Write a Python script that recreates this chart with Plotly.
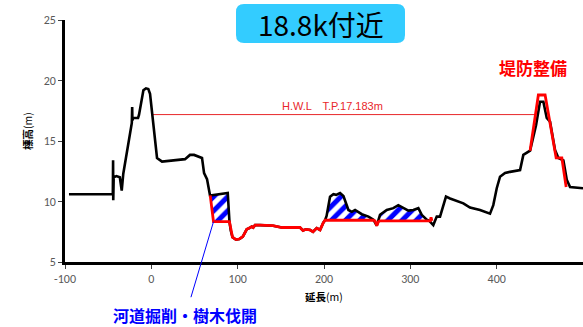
import plotly.graph_objects as go

# ---------------- data ----------------
# existing ground (black) - left bank
left_bank_x = [-95.4, -44.6, -44.3, -44.1, -43.6, -40.5, -36.5, -34.3, -32.5, -22.6, -22.2, -21.9,
               -21.0, -15.4, -14.3, -9.2, -6.2, -3.5, -1.5, 6.6, 12.4, 39.0, 44.8, 49.5, 58.7,
               61.1, 64.5, 68.0, 88.5, 90.3]
left_bank_y = [10.6, 10.6, 13.4, 10.1, 12.0, 12.1, 12.0, 10.9, 12.3, 16.5, 17.8, 16.7,
               16.9, 16.9, 17.15, 19.2, 19.35, 19.3, 18.9, 13.6, 13.3, 13.5, 13.85, 13.85, 13.6,
               12.35, 11.85, 10.5, 10.7, 8.45]

# river channel bottom (shared by existing ground and plan)
channel_x = [90.5, 92.0, 94.0, 98.0, 102.0, 106.0, 110.5, 113.5, 116.3, 118.0, 120.1, 126.0,
             133.7, 141.0, 151.1, 172.2, 175.7, 179.0, 183.8, 187.3, 191.6, 195.4, 199.2, 201.2]
channel_y = [8.33, 7.6, 7.05, 6.85, 6.9, 7.1, 7.7, 7.8, 7.93, 7.85, 8.05, 8.05,
             8.05, 8.0, 7.85, 7.85, 7.6, 7.7, 7.65, 7.5, 7.8, 7.65, 8.25, 8.45]

# existing ground (black) - right side
right_ground_x = [201.2, 203.0, 207.0, 210.9, 214.0, 218.6, 222.5, 228.3, 232.2, 236.0, 239.9,
                  243.8, 251.5, 257.2, 261.1, 264.9, 272.7, 280.3, 286.1, 291.9, 297.7, 303.5,
                  309.3, 313.2, 319.0, 322.0, 326.6, 330.6, 334.4, 341.3, 346.0, 361.4, 369.1,
                  380.7, 392.3, 396.1, 400.1, 403.9, 409.7, 415.5, 427.1, 430.9, 438.7, 445.6,
                  450.2, 454.1, 458.0, 461.8, 467.6, 471.5, 477.3, 481.2, 485.0, 500.0]
right_ground_y = [8.45, 8.8, 10.4, 10.6, 10.55, 10.7, 10.45, 9.3, 9.15, 9.3, 9.15,
                  8.95, 8.75, 8.5, 8.0, 8.9, 9.3, 9.45, 9.7, 9.45, 9.25, 9.3,
                  9.45, 8.9, 8.5, 8.4, 8.05, 8.75, 8.75, 10.4, 10.25, 9.85, 9.5,
                  9.3, 9.0, 9.7, 11.1, 12.05, 12.35, 12.45, 12.6, 13.85, 14.2, 16.3,
                  18.25, 18.25, 16.9, 16.6, 14.25, 13.6, 13.4, 11.8, 11.2, 11.1]

# plan section (red)
cut_left_x = [68.2, 72.0]
cut_left_y = [10.5, 8.33]
cut_right_x = [257.2, 259.0, 261.1, 263.0, 264.9, 323.0, 324.0, 325.0]
cut_right_y = [8.45, 8.4, 8.0, 8.33, 8.4, 8.4, 8.7, 8.4]
dike_x = [438.7, 448.3, 456.1, 461.1, 468.9, 475.5, 480.5]
dike_y = [14.2, 18.8, 18.8, 16.8, 13.6, 13.6, 11.2]

hwl_x = [0.5, 444.6]
hwl_level = 17.183

hatch_ranges = [(68.0, 90.5), (201.2, 257.2), (264.9, 322.0)]

x_ticks = [-100, 0, 100, 200, 300, 400, 500]
y_ticks = [5, 10, 15, 20, 25]

# ---------------- assemble ----------------
ground_x = left_bank_x + channel_x + right_ground_x
ground_y = left_bank_y + channel_y + right_ground_y
plan_x = cut_left_x + channel_x + cut_right_x + [None] + dike_x
plan_y = cut_left_y + channel_y + cut_right_y + [None] + dike_y

fig = go.Figure()

# hatched cut areas
for a, b in hatch_ranges:
    top = [(x, y) for x, y in zip(ground_x, ground_y) if a <= x <= b]
    bot = [(x, y) for x, y in zip(plan_x, plan_y) if x is not None and a - 0.3 <= x <= b + 0.3]
    bot = sorted(set(bot))
    poly = top + bot[::-1]
    fig.add_trace(go.Scatter(
        x=[p[0] for p in poly], y=[p[1] for p in poly],
        mode="none", fill="toself", fillcolor="white",
        fillpattern=dict(shape="/", fgcolor="#0000FF", fgopacity=1, bgcolor="white",
                         size=10, solidity=0.5),
        hoverinfo="skip", showlegend=False))

fig.add_trace(go.Scatter(x=hwl_x, y=[hwl_level, hwl_level], mode="lines",
                         line=dict(color="#E8262A", width=1), showlegend=False))
fig.add_trace(go.Scatter(x=ground_x, y=ground_y, mode="lines",
                         line=dict(color="black", width=2.6), showlegend=False))
fig.add_trace(go.Scatter(x=plan_x, y=plan_y, mode="lines",
                         line=dict(color="#FF0000", width=2.8), showlegend=False,
                         connectgaps=False))

tickfont = dict(family="Carlito, Lato, Liberation Sans", size=12, color="#595959")
fig.update_xaxes(range=[-100, 500], tickvals=x_ticks, ticktext=[str(v) for v in x_ticks],
                 showgrid=False, zeroline=False, showline=True, linecolor="black", linewidth=2.5,
                 ticks="outside", ticklen=4, tickcolor="#404040", tickfont=tickfont,
                 automargin=False)
fig.update_yaxes(range=[5, 25], tickvals=y_ticks, ticktext=[str(v) for v in y_ticks],
                 showgrid=False, zeroline=False, showline=True, linecolor="black", linewidth=2.5,
                 ticks="outside", ticklen=4, tickcolor="#404040", tickfont=tickfont,
                 automargin=False)

# title box (rounded rectangle, pixel offsets from plot top-left)
x0, x1, yt, yb, r = 171, 340, 16, -23, 8
path = (f"M {x0+r},{yt} L {x1-r},{yt} Q {x1},{yt} {x1},{yt-r} L {x1},{yb+r} "
        f"Q {x1},{yb} {x1-r},{yb} L {x0+r},{yb} Q {x0},{yb} {x0},{yb+r} "
        f"L {x0},{yt-r} Q {x0},{yt} {x0+r},{yt} Z")
fig.add_shape(type="path", path=path, xref="paper", yref="paper",
              xsizemode="pixel", ysizemode="pixel", xanchor=0, yanchor=1,
              fillcolor="#33CCFF", line=dict(width=0), layer="above")

cjk = "Noto Sans CJK JP"


def label(text, x, y, size, color, **kw):
    fig.add_annotation(text=text, x=x, y=y, xref="paper", yref="paper", showarrow=False,
                       xanchor="center", yanchor="middle",
                       font=dict(family=cjk, size=size, color=color), **kw)


label("18.8k付近", 0.494, 0.983, 28, "black")
label("<b>堤防整備</b>", 0.903, 0.8017, 17, "#FF0000")
label("<b>河道掘削・樹木伐開</b>", 0.2317, -0.221, 16, "#0000FF")
label("<b>延長</b>(m)", 0.5, -0.1405, 10.5, "black")
label("<b>標高</b>(m)", -0.0734, 0.541, 10.5, "black", textangle=-90)

fig.add_annotation(text="H.W.L　T.P.17.183m", x=210, y=hwl_level, xref="x", yref="y",
                   yanchor="bottom", yshift=1, showarrow=False,
                   font=dict(family="Liberation Sans, Arial", size=11, color="#E8262A"))
fig.add_annotation(text="", x=72, y=8.33, xref="x", yref="y", showarrow=True,
                   arrowhead=0, arrowwidth=1, arrowcolor="#0000FF", ax=-23, ay=77,
                   standoff=0, startstandoff=0)

fig.update_layout(width=583, height=327, margin=dict(l=65, r=0, t=20, b=65),
                  paper_bgcolor="white", plot_bgcolor="white", showlegend=False)

fig.write_html("out.html", config={"displayModeBar": False},
               post_script="document.body.style.margin='0';document.body.style.overflow='hidden';")
